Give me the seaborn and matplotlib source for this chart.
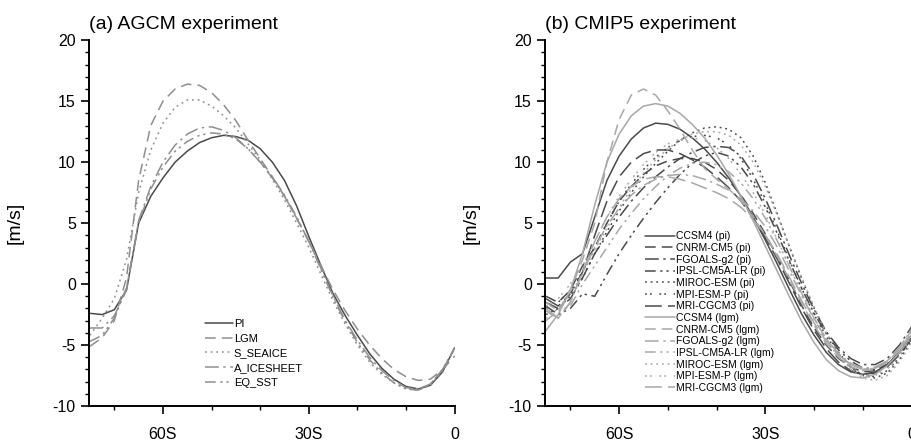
import matplotlib
matplotlib.use("Agg")
import matplotlib.pyplot as plt
from matplotlib.ticker import MultipleLocator, FixedLocator
import seaborn as sns

# latitude grid (degrees, negative = south)
lats = [-75, -72.5, -70, -67.5, -65, -62.5, -60, -57.5, -55, -52.5, -50, -47.5,
        -45, -42.5, -40, -37.5, -35, -32.5, -30, -27.5, -25, -22.5, -20, -17.5,
        -15, -12.5, -10, -7.5, -5, -2.5, 0]

# ---------------- (a) AGCM experiment ----------------
agcm_names = ["PI", "LGM", "S_SEAICE", "A_ICESHEET", "EQ_SST"]
pi_vals = [-2.4, -2.5, -2.1, -0.5, 5.0, 7.2, 8.7, 10.0, 10.9, 11.6, 12.0, 12.2,
           12.1, 11.8, 11.1, 10.0, 8.5, 6.4, 3.9, 1.5, -0.8, -2.6, -4.2, -5.7,
           -6.9, -7.8, -8.4, -8.6, -8.3, -7.2, -5.2]
lgm_vals = [-5.1, -4.4, -3.0, 0.5, 8.5, 13.0, 15.0, 16.0, 16.4, 16.3, 15.7, 14.7,
            13.4, 11.8, 10.3, 8.8, 7.2, 5.4, 3.5, 1.5, -0.5, -2.2, -3.7, -5.0,
            -6.1, -7.0, -7.6, -7.9, -7.8, -7.0, -5.9]
seaice_vals = [-4.2, -2.8, -1.2, 2.0, 7.5, 11.0, 13.2, 14.5, 15.1, 15.1, 14.6, 13.8,
               12.8, 11.5, 10.2, 8.6, 6.9, 5.0, 3.0, 0.8, -1.4, -3.3, -5.0, -6.4,
               -7.4, -8.1, -8.6, -8.7, -8.3, -7.2, -5.3]
icesheet_vals = [-3.6, -3.6, -2.6, -0.5, 5.2, 8.0, 10.0, 11.4, 12.3, 12.8, 12.9, 12.6,
                 12.0, 11.1, 10.0, 8.7, 7.2, 5.4, 3.5, 1.3, -1.0, -3.0, -4.6, -6.0,
                 -7.1, -7.9, -8.5, -8.6, -8.2, -7.0, -5.3]
eqsst_vals = [-4.7, -4.2, -2.8, -0.3, 5.0, 7.8, 9.6, 10.9, 11.7, 12.2, 12.4, 12.3,
              11.9, 11.1, 10.0, 8.8, 7.3, 5.5, 3.5, 1.2, -1.1, -3.1, -4.8, -6.2,
              -7.3, -8.1, -8.6, -8.7, -8.2, -7.0, -5.2]
agcm_vals = [pi_vals, lgm_vals, seaice_vals, icesheet_vals, eqsst_vals]

# ---------------- (b) CMIP5 experiment ----------------
cmip_names = ["CCSM4 (pi)", "CNRM-CM5 (pi)", "FGOALS-g2 (pi)", "IPSL-CM5A-LR (pi)",
              "MIROC-ESM (pi)", "MPI-ESM-P (pi)", "MRI-CGCM3 (pi)",
              "CCSM4 (lgm)", "CNRM-CM5 (lgm)", "FGOALS-g2 (lgm)", "IPSL-CM5A-LR (lgm)",
              "MIROC-ESM (lgm)", "MPI-ESM-P (lgm)", "MRI-CGCM3 (lgm)"]
ccsm4_pi = [0.5, 0.5, 1.8, 2.5, 5.5, 8.5, 10.5, 11.9, 12.8, 13.2, 13.1, 12.7,
            12.0, 11.1, 10.0, 8.7, 7.2, 5.5, 3.6, 1.6, -0.5, -2.5, -4.2, -5.6,
            -6.6, -7.2, -7.4, -7.2, -6.6, -5.6, -4.2]
cnrm_pi = [-1.0, -1.5, -0.5, 1.5, 3.0, 5.0, 6.8, 8.0, 9.0, 9.7, 10.1, 10.3,
           10.3, 10.0, 9.4, 8.5, 7.3, 5.8, 4.1, 2.2, 0.2, -1.8, -3.6, -5.0,
           -6.1, -6.8, -7.2, -7.1, -6.6, -5.6, -4.3]
fgoals_pi = [-1.5, -2.0, -1.2, 0.5, 2.5, 4.0, 5.5, 6.8, 7.9, 8.8, 9.6, 10.3,
             10.8, 11.2, 11.3, 11.2, 10.5, 9.0, 7.0, 4.7, 2.3, 0.0, -2.1, -3.9,
             -5.2, -6.1, -6.6, -6.6, -6.1, -5.0, -3.5]
ipsl_pi = [-1.8, -2.5, -2.0, -0.8, -1.0, 0.8, 2.5, 4.0, 5.4, 6.7, 7.9, 9.0,
           9.9, 10.5, 10.8, 10.5, 9.6, 8.2, 6.3, 4.1, 1.8, -0.4, -2.4, -4.1,
           -5.4, -6.3, -6.9, -7.0, -6.6, -5.6, -4.2]
miroc_pi = [-2.5, -2.0, -1.0, 0.5, 2.5, 4.3, 6.0, 7.5, 8.8, 9.9, 10.9, 11.8,
            12.4, 12.8, 12.9, 12.7, 12.0, 10.5, 8.3, 5.7, 3.0, 0.4, -2.0, -4.0,
            -5.6, -6.8, -7.5, -7.7, -7.3, -6.2, -4.6]
mpi_pi = [-2.0, -1.5, -0.5, 1.0, 3.0, 5.0, 6.8, 8.2, 9.4, 10.4, 11.2, 11.8,
          12.1, 12.2, 12.0, 11.4, 10.3, 8.6, 6.6, 4.3, 1.9, -0.4, -2.5, -4.3,
          -5.8, -6.9, -7.5, -7.6, -7.1, -6.0, -4.4]
mri_pi = [-1.2, -1.8, -0.8, 1.0, 4.0, 6.8, 8.8, 10.0, 10.7, 11.0, 11.0, 10.7,
          10.2, 9.6, 8.8, 7.9, 6.8, 5.4, 3.8, 2.0, 0.0, -2.0, -3.8, -5.3,
          -6.4, -7.1, -7.4, -7.3, -6.8, -5.8, -4.5]
ccsm4_lgm = [-3.8, -2.5, -0.5, 2.5, 6.5, 10.0, 12.3, 13.8, 14.6, 14.8, 14.6, 14.0,
             13.1, 12.0, 10.6, 9.0, 7.2, 5.2, 3.1, 1.0, -1.1, -3.1, -4.8, -6.2,
             -7.1, -7.6, -7.7, -7.4, -6.7, -5.6, -4.2]
cnrm_lgm = [-3.0, -2.2, -0.5, 2.0, 5.0, 10.0, 13.5, 15.5, 16.0, 15.5, 14.2, 12.7,
            11.0, 9.5, 8.6, 7.8, 6.8, 5.5, 4.0, 2.2, 0.3, -1.6, -3.4, -4.9,
            -6.0, -6.8, -7.1, -7.0, -6.4, -5.4, -4.0]
fgoals_lgm = [-2.0, -2.8, -1.5, 1.0, 3.0, 4.8, 6.2, 7.3, 8.1, 8.6, 8.9, 9.0,
              8.9, 8.6, 8.2, 7.7, 7.0, 6.0, 4.7, 3.0, 1.0, -1.0, -2.9, -4.5,
              -5.7, -6.5, -6.9, -6.8, -6.3, -5.3, -3.9]
ipsl_lgm = [-1.5, -2.2, -1.8, 0.0, 1.5, 3.0, 4.5, 5.8, 7.0, 8.0, 8.9, 9.5,
            9.9, 10.0, 9.8, 9.2, 8.3, 7.0, 5.4, 3.5, 1.4, -0.8, -2.8, -4.5,
            -5.8, -6.6, -7.0, -6.9, -6.3, -5.2, -3.7]
miroc_lgm = [-2.8, -2.0, -0.8, 0.8, 2.8, 4.6, 6.3, 7.8, 9.1, 10.2, 11.1, 11.8,
             12.3, 12.5, 12.5, 12.2, 11.4, 10.0, 8.0, 5.6, 3.0, 0.5, -1.9, -4.0,
             -5.7, -7.0, -7.7, -7.9, -7.5, -6.4, -4.8]
mpi_lgm = [-1.8, -1.2, 0.0, 1.5, 3.5, 5.5, 7.2, 8.6, 9.8, 10.8, 11.5, 11.9,
           12.0, 11.8, 11.2, 10.3, 9.0, 7.5, 5.7, 3.6, 1.4, -0.8, -2.8, -4.6,
           -6.0, -7.0, -7.5, -7.5, -7.0, -5.9, -4.3]
mri_lgm = [-2.2, -2.8, -1.5, 1.0, 3.5, 5.5, 7.0, 8.0, 8.6, 8.8, 8.8, 8.6,
           8.3, 7.9, 7.5, 7.0, 6.3, 5.3, 4.0, 2.4, 0.5, -1.4, -3.2, -4.7,
           -5.8, -6.6, -7.0, -6.9, -6.3, -5.2, -3.8]
cmip_vals = [ccsm4_pi, cnrm_pi, fgoals_pi, ipsl_pi, miroc_pi, mpi_pi, mri_pi,
             ccsm4_lgm, cnrm_lgm, fgoals_lgm, ipsl_lgm, miroc_lgm, mpi_lgm, mri_lgm]

# line styles (dash patterns in units of linewidth)
SOLID = "-"
DASH = (0, (7, 4))
DOT = (0, (1.2, 2.5))
DASHDOT = (0, (9, 3, 1.5, 3))
DASHDOTDOT = (0, (7, 3, 1.5, 2.5, 1.5, 3))
PAIRDOT = (0, (1.2, 2, 1.2, 5))
LONGDASH = (0, (11, 4))

DARK = "#4a4a4a"
MID = "#8f8f8f"
LIGHT = "#a8a8a8"

agcm_styles = [SOLID, DASH, DOT, DASHDOT, DASHDOTDOT]
agcm_colors = [DARK, MID, MID, MID, MID]
cmip_styles = [SOLID, DASH, DASHDOT, DASHDOTDOT, DOT, PAIRDOT, LONGDASH] * 2
cmip_colors = [DARK] * 7 + [LIGHT] * 7

sns.set_style("ticks")
plt.rcParams["font.family"] = ["Liberation Sans", "DejaVu Sans"]
plt.rcParams["axes.unicode_minus"] = False
for key in ["text.color", "axes.labelcolor", "xtick.color", "ytick.color"]:
    plt.rcParams[key] = "black"


def style_axes(ax, title):
    ax.set_xlim(-75.2, 0)
    ax.set_ylim(-10, 20)
    ax.xaxis.set_major_locator(FixedLocator([-60, -30, 0]))
    ax.xaxis.set_minor_locator(FixedLocator([-70, -50, -40, -20, -10]))
    ax.set_xticklabels(["60S", "30S", "0"])
    ax.yaxis.set_major_locator(MultipleLocator(5))
    ax.yaxis.set_minor_locator(MultipleLocator(1))
    ax.tick_params(axis="both", which="major", length=6, width=1.2,
                   labelsize=11.5, color="black", labelcolor="black")
    ax.tick_params(axis="both", which="minor", length=3, width=1.0, color="black")
    ax.tick_params(axis="x", which="major", pad=9)
    sns.despine(ax=ax)
    for side in ["left", "bottom"]:
        ax.spines[side].set_linewidth(1.4)
        ax.spines[side].set_color("black")
    ax.set_ylabel("[m/s]", fontsize=14, color="black")
    ax.yaxis.set_label_coords(-0.178, 0.5)
    ax.set_xlabel("")
    ax.set_title(title, loc="left", fontsize=14, pad=8, color="black")


fig = plt.figure(figsize=(9.12, 4.45), dpi=100)
ax_a = fig.add_axes([0.0976, 0.0876, 0.401, 0.822])
ax_b = fig.add_axes([0.5976, 0.0876, 0.402, 0.822])

for name, vals, ls, col in zip(agcm_names, agcm_vals, agcm_styles, agcm_colors):
    sns.lineplot(x=lats, y=vals, ax=ax_a, color=col, linestyle=ls,
                 linewidth=1.1, label=name)

for name, vals, ls, col in zip(cmip_names, cmip_vals, cmip_styles, cmip_colors):
    sns.lineplot(x=lats, y=vals, ax=ax_b, color=col, linestyle=ls,
                 linewidth=1.1, label=name)

style_axes(ax_a, "(a) AGCM experiment")
style_axes(ax_b, "(b) CMIP5 experiment")

ax_a.legend(loc="upper left", bbox_to_anchor=(0.317, 0.238), frameon=False,
            fontsize=8, handlelength=2.5, handletextpad=0.1,
            labelspacing=0.42, borderpad=0, borderaxespad=0)
ax_b.legend(loc="upper left", bbox_to_anchor=(0.272, 0.478), frameon=False,
            fontsize=7.5, handlelength=2.9, handletextpad=0.1,
            labelspacing=0.16, borderpad=0, borderaxespad=0)

fig.savefig("out.png", dpi=100)
